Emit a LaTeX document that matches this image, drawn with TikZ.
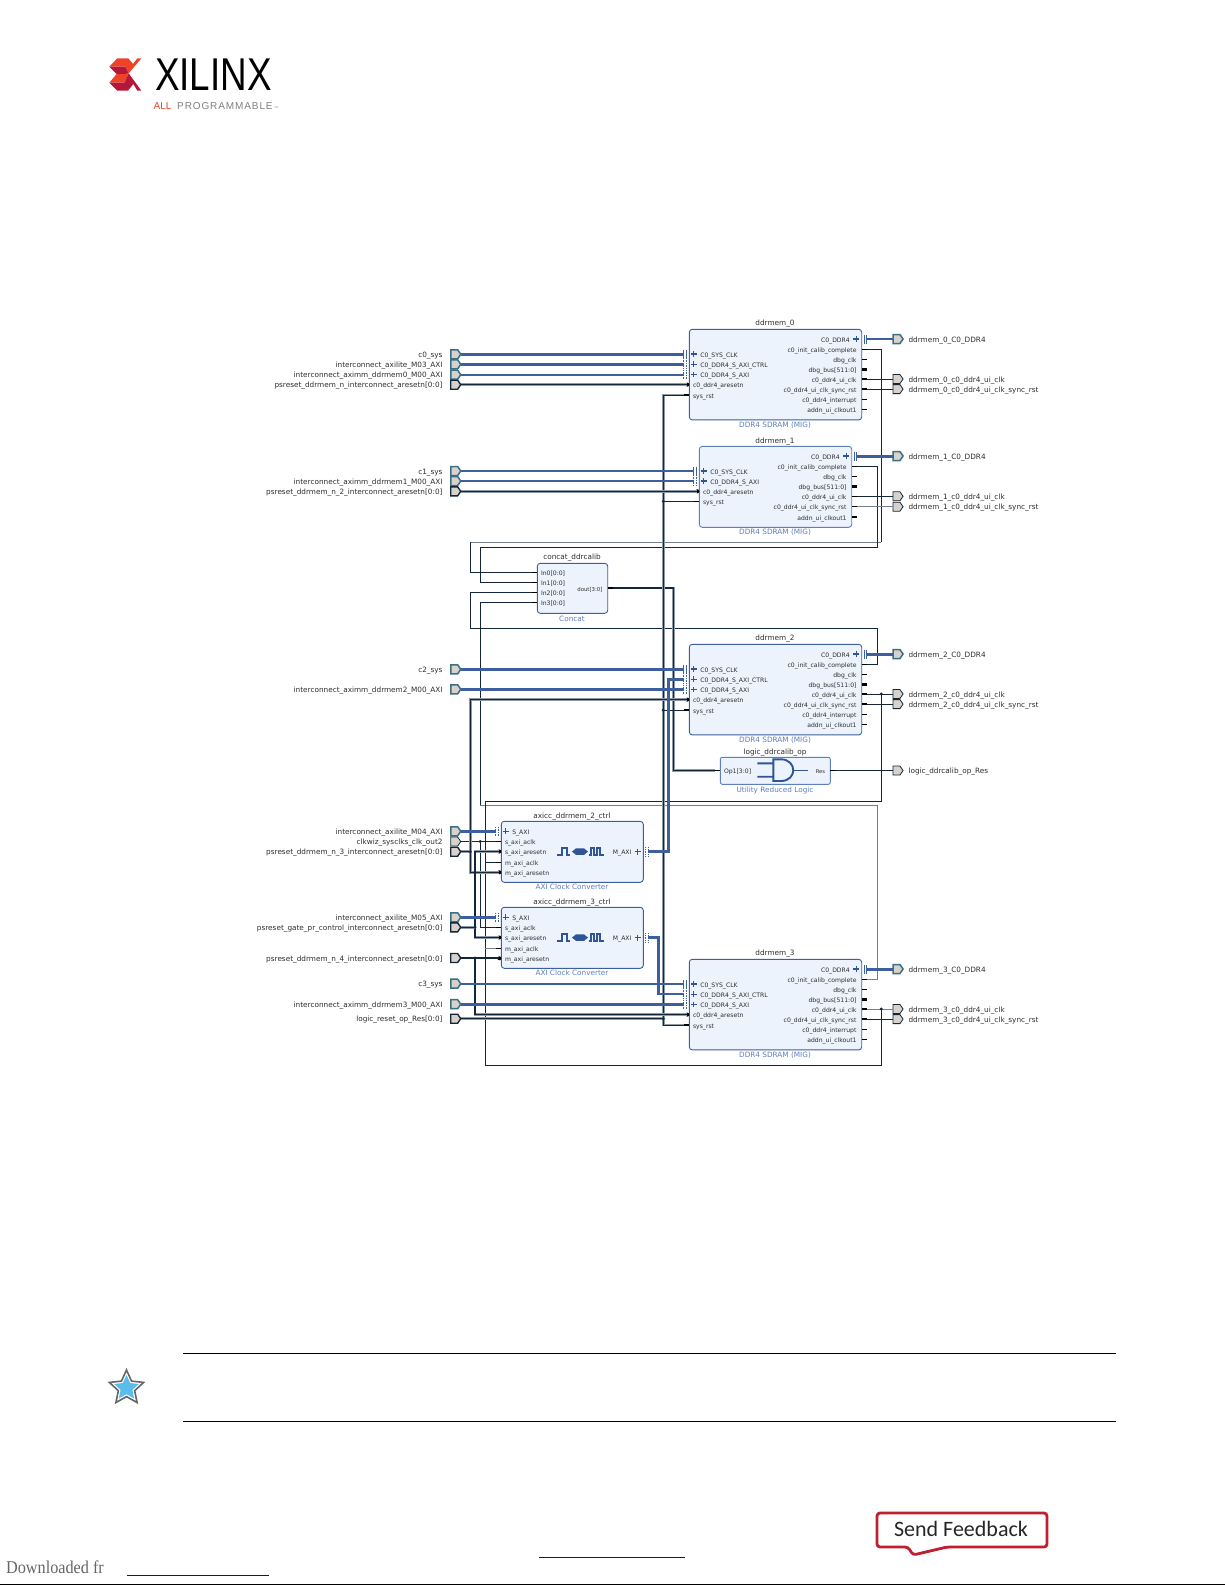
\documentclass[tikz,border=0pt]{standalone}
\usepackage{fontspec}
\setmainfont{DejaVu Sans}
\newfontfamily\flogo{Liberation Sans}
\newfontfamily\flogosp[LetterSpace=9]{Liberation Sans}
\newfontfamily\fcarl{Carlito}
\newfontfamily\fser{Liberation Serif}
\usetikzlibrary{shapes.symbols,shapes.geometric}
\definecolor{ink}{HTML}{14263A}
\definecolor{busc}{HTML}{3D5F9E}
\definecolor{halo}{HTML}{8E9AA8}
\definecolor{grayn}{HTML}{76808C}
\definecolor{portfill}{HTML}{D9D2CC}
\definecolor{portbus}{HTML}{3A6F85}
\definecolor{blkfill}{HTML}{ECF3FD}
\definecolor{subc}{HTML}{5F7FBC}
\definecolor{txt}{HTML}{2E2E2E}
\definecolor{iconc}{HTML}{2F5597}
\definecolor{logoor}{HTML}{EE4327}
\definecolor{logocr}{HTML}{B5173B}
\definecolor{fbred}{HTML}{C01F30}
\definecolor{starblue}{HTML}{5BBDEB}
\tikzset{
  blk/.style={draw=busc,fill=blkfill,line width=0.9pt,rounded corners=3pt,anchor=north west,inner sep=0pt,outer sep=0pt},
  ttl/.style={font=\fontsize{7.3}{8}\selectfont,text=txt,inner sep=0pt,text height=6.2pt,text depth=0pt},
  sublab/.style={font=\fontsize{7.3}{8}\selectfont,text=subc,inner sep=0pt,text height=6.2pt,text depth=0pt},
  lab/.style={font=\fontsize{6.1}{7}\selectfont,text=txt,inner sep=0pt,text height=6.2pt,text depth=0pt},
  outlab/.style={font=\fontsize{7.3}{8}\selectfont,text=txt,inner sep=0pt,text height=6.2pt,text depth=0pt},
  portshape/.style={shape=signal,signal to=east,signal pointer angle=110,minimum width=10pt,minimum height=9pt,inner sep=0pt,outer sep=0pt,fill=portfill},
  pbus/.style={portshape,draw=portbus,line width=1.5pt},
  prst/.style={portshape,draw=ink,line width=1.4pt},
  pthin/.style={portshape,draw=ink,line width=0.8pt},
  wnet/.style={draw=ink,line width=0.85pt},
  wgray/.style={draw=grayn,line width=0.85pt},
  wrst/.style={draw=ink,line width=1.1pt,preaction={draw=halo,line width=2.5pt}},
  wbus/.style={draw=busc,line width=3pt},
  gsolid/.style={draw=busc,line width=0.6pt},
  gdot/.style={draw=busc,line width=0.7pt,densely dotted},
  plusc/.style={draw=iconc,line width=1.1pt},
  stubc/.style={draw=black,line width=1.5pt},
  jn/.style={circle,fill=ink,inner sep=0pt,minimum size=3.2pt},
  iconl/.style={draw=iconc,line width=1.7pt},
}
\newcommand{\lbus}[5]{%
  \coordinate (#1) at ({#2-5},{#3});
  \draw[#5] ({#2-5.6},{#3-4.5}) -- ({#2-5.6},{#3+4.5}) ({#2-3.2},{#3-4.5}) -- ({#2-3.2},{#3+4.5});
  \draw[plusc] ({#2+1.5},{#3}) -- ({#2+7.3},{#3}) ({#2+4.4},{#3-2.9}) -- ({#2+4.4},{#3+2.9});
  \node[lab,anchor=west] (#1-l) at ({#2+10.8},{#3}) {#4};}
\newcommand{\rbus}[5]{%
  \coordinate (#1) at ({#2+5},{#3});
  \draw[#5] ({#2+2.4},{#3-4.5}) -- ({#2+2.4},{#3+4.5}) ({#2+4.8},{#3-4.5}) -- ({#2+4.8},{#3+4.5});
  \draw[plusc] ({#2-8.5},{#3}) -- ({#2-2.7},{#3}) ({#2-5.6},{#3-2.9}) -- ({#2-5.6},{#3+2.9});
  \node[lab,anchor=east] (#1-l) at ({#2-11.7},{#3}) {#4};}
\newcommand{\lstub}[4]{%
  \coordinate (#1) at ({#2-5},{#3});
  \draw[stubc] ({#2-5},{#3}) -- (#2,{#3});
  \node[lab,anchor=west] (#1-l) at ({#2+3.5},{#3}) {#4};}
\newcommand{\ldot}[4]{%
  \coordinate (#1) at ({#2-2},{#3});
  \fill[black] ({#2-2},{#3}) circle (2pt);
  \node[lab,anchor=west] (#1-l) at ({#2+3.5},{#3}) {#4};}
\newcommand{\rstub}[5]{%
  \coordinate (#1) at ({#2+5},{#3});
  \draw[draw=black,line width=#5pt] (#2,{#3}) -- ({#2+5},{#3});
  \node[lab,anchor=east] (#1-l) at ({#2-5},{#3}) {#4};}
\newcommand{\ddrblock}[3]{%
  \node[blk,minimum width=172.4pt,minimum height=90.6pt] (#1) at (689.3,{#2}) {};
  \node[ttl] (#1-t) at (775,{#2-6.5}) {#3};
  \node[sublab] (#1-s) at (775,{#2+95.5}) {DDR4 SDRAM (MIG)};
  \lbus{#1-sys}{689.3}{#2+24.7}{C0\_SYS\_CLK}{gsolid}
  \lbus{#1-ctrl}{689.3}{#2+34.8}{C0\_DDR4\_S\_AXI\_CTRL}{gdot}
  \lbus{#1-axi}{689.3}{#2+45.1}{C0\_DDR4\_S\_AXI}{gdot}
  \ldot{#1-arst}{689.3}{#2+55.3}{c0\_ddr4\_aresetn}
  \lstub{#1-rst}{689.3}{#2+65.9}{sys\_rst}
  \rbus{#1-ddr}{861.7}{#2+9.7}{C0\_DDR4}{gsolid}
  \rstub{#1-init}{861.7}{#2+20}{c0\_init\_calib\_complete}{1.5}
  \rstub{#1-dclk}{861.7}{#2+30.2}{dbg\_clk}{1.5}
  \rstub{#1-dbus}{861.7}{#2+40.3}{dbg\_bus[511:0]}{3}
  \rstub{#1-ui}{861.7}{#2+49.7}{c0\_ddr4\_ui\_clk}{1.5}
  \rstub{#1-sync}{861.7}{#2+59.8}{c0\_ddr4\_ui\_clk\_sync\_rst}{1.5}
  \rstub{#1-intr}{861.7}{#2+70.1}{c0\_ddr4\_interrupt}{1.5}
  \rstub{#1-addn}{861.7}{#2+80.3}{addn\_ui\_clkout1}{1.5}}
\newcommand{\axicc}[3]{%
  \node[blk,minimum width=142pt,minimum height=61pt] (#1) at (501.3,{#2}) {};
  \node[ttl] (#1-t) at (572,{#2-5.6}) {#3};
  \node[sublab] (#1-s) at (572,{#2+65.4}) {AXI Clock Converter};
  \lbus{#1-s}{501.3}{#2+10}{S\_AXI}{gdot}
  \lstub{#1-sclk}{501.3}{#2+20.4}{s\_axi\_aclk}
  \ldot{#1-sarst}{501.3}{#2+30.2}{s\_axi\_aresetn}
  \lstub{#1-mclk}{501.3}{#2+41}{m\_axi\_aclk}
  \ldot{#1-marst}{501.3}{#2+51}{m\_axi\_aresetn}
  \rbus{#1-m}{643.3}{#2+30.3}{M\_AXI}{gdot}
  \draw[iconl] (557.3,{#2+34}) -- (561.7,{#2+34}) -- (561.7,{#2+26.5}) -- (566.7,{#2+26.5}) -- (566.7,{#2+34}) -- (570,{#2+34});
  \fill[iconc] (572,{#2+30.3}) -- (576,{#2+27}) -- (584,{#2+27}) -- (588,{#2+30.3}) -- (584,{#2+33.6}) -- (576,{#2+33.6}) -- cycle;
  \draw[iconl] (588.5,{#2+34}) -- (590.7,{#2+34}) -- (590.7,{#2+26.5}) -- (594.2,{#2+26.5}) -- (594.2,{#2+34}) -- (596.7,{#2+34}) -- (596.7,{#2+26.5}) -- (600,{#2+26.5}) -- (600,{#2+34}) -- (603.5,{#2+34});}
\newcommand{\inport}[4]{%
  \node[#3] (#1) at (454.2,{#2}) {};
  \node[outlab,anchor=east] (#1-l) at (442.7,{#2}) {#4};}
\newcommand{\outport}[4]{%
  \node[#3] (#1) at (896.5,{#2}) {};
  \node[outlab,anchor=west] (#1-l) at (908.3,{#2}) {#4};}
\begin{document}
\begin{tikzpicture}[x=1pt,y=-1pt]
\path[use as bounding box,fill=white] (0,0) rectangle (1225,1585);

% lanes
\coordinate (xA) at (470.3,0); \coordinate (xB) at (480.3,0); \coordinate (xC) at (485.3,0);
\coordinate (xD) at (475,0); \coordinate (xE) at (663.3,0); \coordinate (xF) at (668.7,0);
\coordinate (xG) at (658.3,0); \coordinate (xH) at (673.7,0); \coordinate (xI) at (877.3,0);
\coordinate (xJ) at (881.3,0);
\coordinate (yA) at (0,542.3); \coordinate (yB) at (0,547.3); \coordinate (yC) at (0,628.3);
\coordinate (yD) at (0,801.5); \coordinate (yE) at (0,805.3); \coordinate (yF) at (0,1065.3);

% logo
\begin{scope}[shift={(100,50)},scale=1/3]
  \fill[logoor] (28,50) -- (52,25) -- (85,25) -- (99,42) -- (112,25) -- (124,25) -- (86,70) -- (76,50) -- cycle;
  \fill[logocr] (28,50) -- (76,50) -- (86,70) -- (76,72) -- (50,72) -- cycle;
  \fill[logoor] (28,98) -- (50,72) -- (76,72) -- (86,70) -- (74,98) -- cycle;
  \fill[logocr] (28,98) -- (74,98) -- (86,70) -- (124,122) -- (112,122) -- (100,102) -- (84,122) -- (52,122) -- cycle;
\end{scope}
\node[inner sep=0pt,font=\fontsize{46}{46}\selectfont\flogo,xscale=.8,transform shape,text=black] (xilinx) at (213.5,74.5) {XILINX};
\node[inner sep=0pt,anchor=west,font=\fontsize{10}{10}\selectfont\flogo,text=logoor] (allw) at (153.5,106) {ALL};
\node[inner sep=0pt,anchor=west,font=\fontsize{10}{10}\selectfont\flogosp,text=gray] (progw) at (177,106) {PROGRAMMABLE};
\node[inner sep=0pt,anchor=west,font=\fontsize{4}{4}\selectfont\flogo,text=gray] (tmw) at (274,108) {™};

% blocks
\ddrblock{d0}{329.3}{ddrmem\_0}
\node[blk,draw=subc,minimum width=152.4pt,minimum height=81pt] (d1) at (699.3,446.3) {};
\node[ttl] (d1-t) at (775,440) {ddrmem\_1};
\node[sublab] (d1-s) at (775,531.3) {DDR4 SDRAM (MIG)};
\lbus{d1-sys}{699.3}{471}{C0\_SYS\_CLK}{gsolid}
\lbus{d1-axi}{699.3}{481}{C0\_DDR4\_S\_AXI}{gdot}
\ldot{d1-arst}{699.3}{491.3}{c0\_ddr4\_aresetn}
\lstub{d1-rst}{699.3}{501.3}{sys\_rst}
\rbus{d1-ddr}{851.7}{456}{C0\_DDR4}{gsolid}
\rstub{d1-init}{851.7}{466.3}{c0\_init\_calib\_complete}{1.5}
\rstub{d1-dclk}{851.7}{476.3}{dbg\_clk}{1.5}
\rstub{d1-dbus}{851.7}{486.3}{dbg\_bus[511:0]}{3}
\rstub{d1-ui}{851.7}{496.3}{c0\_ddr4\_ui\_clk}{1.5}
\rstub{d1-sync}{851.7}{506.7}{c0\_ddr4\_ui\_clk\_sync\_rst}{1.5}
\rstub{d1-addn}{851.7}{517}{addn\_ui\_clkout1}{1.5}
\ddrblock{d2}{644.3}{ddrmem\_2}
\ddrblock{d3}{959.3}{ddrmem\_3}

\node[blk,minimum width=70.4pt,minimum height=50pt] (cc) at (537.3,563.3) {};
\node[ttl] (cc-t) at (572,556) {concat\_ddrcalib};
\node[sublab] (cc-s) at (572,618) {Concat};
\lstub{c-in0}{537.3}{572.3}{In0[0:0]}
\lstub{c-in1}{537.3}{582.3}{In1[0:0]}
\lstub{c-in2}{537.3}{592.3}{In2[0:0]}
\lstub{c-in3}{537.3}{602.3}{In3[0:0]}
\rstub{c-dout}{607.7}{588}{\fontsize{5.4}{6}\selectfont dout[3:0]}{1.5}

\node[blk,draw=subc,rounded corners=2pt,minimum width=110pt,minimum height=27pt] (lg) at (720.3,757.3) {};
\node[ttl] (lg-t) at (775,751) {logic\_ddrcalib\_op};
\node[sublab] (lg-s) at (775,789) {Utility Reduced Logic};
\lstub{l-op}{720.3}{770.5}{Op1[3:0]}
\rstub{l-res}{830.3}{770.5}{\fontsize{5.2}{6}\selectfont Res}{1.5}
\draw[iconl,line width=1.9pt] (757.3,763.3) -- (773.3,763.3) (757.3,776.7) -- (773.3,776.7)
  (773.3,759.3) -- (781,759.3) .. controls (789,759.3) and (793.3,765) .. (793.3,770.2) .. controls (793.3,775.5) and (789,781) .. (781,781) -- (773.3,781) -- cycle;
\draw[iconl,line width=0.8pt] (793.3,770.2) -- (808,770.2);

\axicc{a2}{821.3}{axicc\_ddrmem\_2\_ctrl}
\axicc{a3}{907.3}{axicc\_ddrmem\_3\_ctrl}

% ports
\inport{pc0}{354.3}{pbus}{c0\_sys}
\inport{pm3}{364.3}{pbus}{interconnect\_axilite\_M03\_AXI}
\inport{pm0}{374.7}{pbus}{interconnect\_aximm\_ddrmem0\_M00\_AXI}
\inport{pr0}{384.7}{prst}{psreset\_ddrmem\_n\_interconnect\_aresetn[0:0]}
\inport{pc1}{471}{pbus}{c1\_sys}
\inport{pm1}{481}{pbus}{interconnect\_aximm\_ddrmem1\_M00\_AXI}
\inport{pr2}{491.3}{prst}{psreset\_ddrmem\_n\_2\_interconnect\_aresetn[0:0]}
\inport{pc2}{669.3}{pbus}{c2\_sys}
\inport{pm2}{689.3}{pbus}{interconnect\_aximm\_ddrmem2\_M00\_AXI}
\inport{pm4}{831.3}{pbus}{interconnect\_axilite\_M04\_AXI}
\inport{pclk}{841.5}{pthin}{clkwiz\_sysclks\_clk\_out2}
\inport{pr3}{851.7}{prst}{psreset\_ddrmem\_n\_3\_interconnect\_aresetn[0:0]}
\inport{pm5}{917.3}{pbus}{interconnect\_axilite\_M05\_AXI}
\inport{pgt}{927.3}{prst}{psreset\_gate\_pr\_control\_interconnect\_aresetn[0:0]}
\inport{pr4}{958}{prst}{psreset\_ddrmem\_n\_4\_interconnect\_aresetn[0:0]}
\inport{pc3}{983.7}{pbus}{c3\_sys}
\inport{pm33}{1004.2}{pbus}{interconnect\_aximm\_ddrmem3\_M00\_AXI}
\inport{plr}{1018.7}{prst}{logic\_reset\_op\_Res[0:0]}

\outport{o0d}{339}{pbus}{ddrmem\_0\_C0\_DDR4}
\outport{o0c}{379}{pthin}{ddrmem\_0\_c0\_ddr4\_ui\_clk}
\outport{o0r}{389.1}{pthin}{ddrmem\_0\_c0\_ddr4\_ui\_clk\_sync\_rst}
\outport{o1d}{456}{pbus}{ddrmem\_1\_C0\_DDR4}
\outport{o1c}{496.3}{pthin}{ddrmem\_1\_c0\_ddr4\_ui\_clk}
\outport{o1r}{506.7}{pthin}{ddrmem\_1\_c0\_ddr4\_ui\_clk\_sync\_rst}
\outport{o2d}{654}{pbus}{ddrmem\_2\_C0\_DDR4}
\outport{o2c}{694}{pthin}{ddrmem\_2\_c0\_ddr4\_ui\_clk}
\outport{o2r}{704.1}{pthin}{ddrmem\_2\_c0\_ddr4\_ui\_clk\_sync\_rst}
\outport{olo}{770.5}{pthin}{logic\_ddrcalib\_op\_Res}
\outport{o3d}{969}{pbus}{ddrmem\_3\_C0\_DDR4}
\outport{o3c}{1009}{pthin}{ddrmem\_3\_c0\_ddr4\_ui\_clk}
\outport{o3r}{1019.1}{pthin}{ddrmem\_3\_c0\_ddr4\_ui\_clk\_sync\_rst}

% feedback nets into concat
\draw[wnet] (d0-init) -- (d0-init -| xJ) -- (xJ |- yA);
\draw[wgray] (xJ |- yA) -- (xA |- yA);
\draw[wnet] (xA |- yA) -- (c-in0 -| xA) -- (c-in0);
\draw[wnet] (d1-init) -- (d1-init -| xI) -- (xI |- yB) -- (xB |- yB) -- (c-in1 -| xB) -- (c-in1);
\draw[wnet] (d2-init) -- (d2-init -| xI) -- (xI |- yC) -- (xA |- yC) -- (c-in2 -| xA) -- (c-in2);
\draw[wnet] (c-in3) -- (c-in3 -| xB) -- (xB |- yE);
\draw[wgray] (xB |- yE) -- (xI |- yE) -- (d3-init -| xI) -- (d3-init);
\draw[wrst] (c-dout) -- (c-dout -| xH) -- (l-op -| xH) -- (l-op);
\draw[wnet] (l-res) -- (olo.west);

% clock net
\draw[wnet] (d2-ui -| xJ) -- (xJ |- yD) -- (xC |- yD) -- (xC |- yF) -- (xJ |- yF) -- (d3-ui -| xJ);
\draw[wnet] (a2-mclk -| xC) -- (a2-mclk);
\draw[wgray] (a3-mclk -| xC) -- (a3-mclk);
\draw[wnet] (pclk.east) -- (pclk.east -| a2-sclk);
\draw[wnet] (pclk.east -| xB) -- (a3-sclk -| xB) -- (a3-sclk);

% output nets
\draw[wnet] (d0-ui) -- (d0-ui -| o0c.west);
\draw[wnet] (d0-sync) -- (d0-sync -| o0r.west);
\draw[wnet] (d1-ui) -- (d1-ui -| o1c.west);
\draw[wgray] (d1-sync) -- (d1-sync -| o1r.west);
\draw[wnet] (d2-ui) -- (d2-ui -| o2c.west);
\draw[wnet] (d2-sync) -- (d2-sync -| o2r.west);
\draw[wgray] (d3-ui) -- (d3-ui -| o3c.west);
\draw[wnet] (d3-sync) -- (d3-sync -| o3r.west);

% reset nets
\draw[wrst] (d0-rst) -- (d0-rst -| xE) -- (d3-rst -| xE) -- (d3-rst);
\draw[wnet,line width=1.1pt] (d1-rst -| xE) -- (d1-rst);
\draw[wnet,line width=1.1pt] (d2-rst -| xE) -- (d2-rst);
\draw[wrst] (plr.east) -- (plr.east -| xE);
\draw[wrst] (pr0.east) -- (pr0.east -| d0-arst);
\draw[wrst] (pr2.east) -- (pr2.east -| d1-arst);
\draw[wrst] (d2-arst) -- (d2-arst -| xA) -- (a2-marst -| xA) -- (a2-marst);
\draw[wrst] (pr3.east) -- (pr3.east -| xA);
\draw[wrst] (a2-sarst) -- (a2-sarst -| xD) -- (a3-sarst -| xD) -- (a3-sarst);
\draw[wrst] (pgt.east) -- (pgt.east -| xD);
\draw[wrst] (pr4.east) -- (pr4.east -| a3-marst);
\draw[wrst] (pr4.east -| xD) -- (d3-arst -| xD) -- (d3-arst);

% junctions
\node[jn] (j1) at (d1-rst -| xE) {};
\node[jn] (j2) at (d2-rst -| xE) {};
\node[jn] (j3) at (plr.east -| xE) {};
\node[jn] (j4) at (d2-ui -| xJ) {};
\node[jn] (j5) at (d3-ui -| xJ) {};
\node[jn] (j6) at (pclk.east -| xB) {};
\node[jn] (j7) at (pr3.east -| xA) {};
\node[jn] (j8) at (pgt.east -| xD) {};
\node[jn] (j9) at (pr4.east -| xD) {};

% bus nets
\draw[wbus] (pc0.east) -- (pc0.east -| d0-sys);
\draw[wbus] (pm3.east) -- (pm3.east -| d0-ctrl);
\draw[wbus,line width=2.2pt] (pm0.east) -- (pm0.east -| d0-axi);
\draw[wbus,line width=2.2pt] (pc1.east) -- (pc1.east -| d1-sys);
\draw[wbus,line width=2.6pt] (pm1.east) -- (pm1.east -| d1-axi);
\draw[wbus] (pc2.east) -- (pc2.east -| d2-sys);
\draw[wbus] (pm2.east) -- (pm2.east -| d2-axi);
\draw[wbus] (pm4.east) -- (pm4.east -| a2-s);
\draw[wbus] (pm5.east) -- (pm5.east -| a3-s);
\draw[wbus,line width=2.2pt] (pc3.east) -- (pc3.east -| d3-sys);
\draw[wbus] (pm33.east) -- (pm33.east -| d3-axi);
\draw[wbus] (a2-m) -- (a2-m -| xF) -- (d2-ctrl -| xF) -- (d2-ctrl);
\draw[wbus,line width=2.6pt] (a3-m) -- (a3-m -| xG) -- (d3-ctrl -| xG) -- (d3-ctrl);
\draw[wbus,line width=2.4pt] (d0-ddr) -- (d0-ddr -| o0d.west);
\draw[wbus] (d1-ddr) -- (d1-ddr -| o1d.west);
\draw[wbus] (d2-ddr) -- (d2-ddr -| o2d.west);
\draw[wbus] (d3-ddr) -- (d3-ddr -| o3d.west);

% page furniture
\draw[black,line width=1pt] (183,1353) -- (1116,1353);
\draw[black,line width=1pt] (183,1421) -- (1116,1421);
\node[star,star points=5,star point ratio=2.1,minimum size=36pt,inner sep=0pt,draw=black!60,line width=1.6pt,fill=white] (stara) at (126.5,1388) {};
\node[star,star points=5,star point ratio=2.1,minimum size=26pt,inner sep=0pt,fill=starblue] (starb) at (126.5,1388) {};
\draw[fbred,line width=2.8pt,rounded corners=3pt,fill=white] (877,1513) -- (1047,1513) -- (1047,1547) -- (947,1547) -- (913,1555) -- (908,1547) -- (877,1547) -- cycle;
\node[inner sep=0pt,font=\fontsize{22}{24}\selectfont\fcarl,text=black!85] (sendfb) at (961,1529) {Send Feedback};
\draw[blue,line width=1pt] (539,1557) -- (685,1557);
\draw[blue,line width=1pt] (127,1575) -- (269,1575);
\node[inner sep=0pt,anchor=west,font=\fontsize{18}{18}\selectfont\fser,xscale=.9,transform shape,text=black!60] (dlfr) at (6,1567) {Downloaded fr};
\draw[black,line width=1pt] (0,1584) -- (1225,1584);
\end{tikzpicture}
\end{document}
